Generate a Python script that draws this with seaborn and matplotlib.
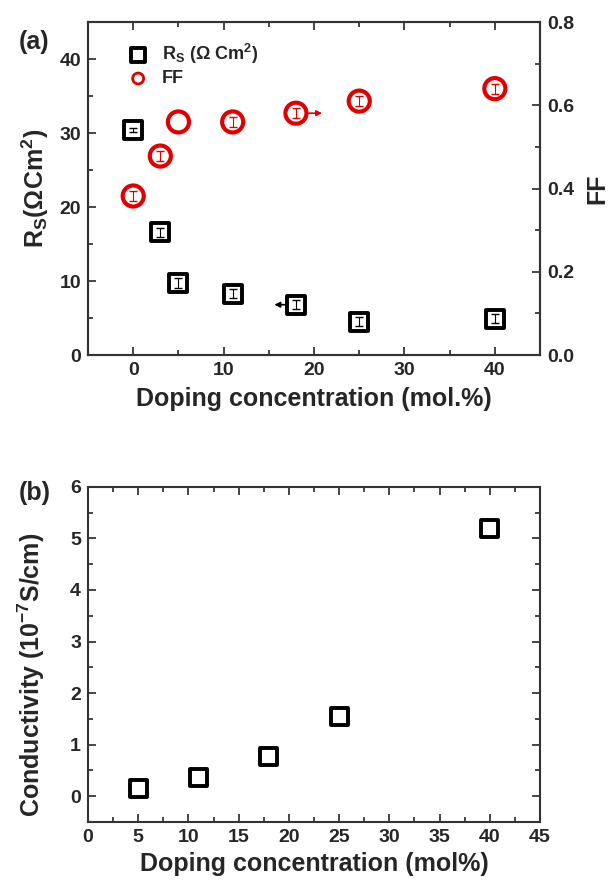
import matplotlib
matplotlib.use("Agg")
import matplotlib.pyplot as plt
from matplotlib.ticker import MultipleLocator
import seaborn as sns
import pandas as pd

sns.set_theme(style="ticks")
plt.rcParams['font.family'] = ['Liberation Sans', 'DejaVu Sans']
plt.rcParams['font.weight'] = 'bold'
plt.rcParams['mathtext.fontset'] = 'custom'
plt.rcParams['mathtext.rm'] = 'Liberation Sans:bold'
plt.rcParams['mathtext.default'] = 'rm'
plt.rcParams['axes.linewidth'] = 1.5
plt.rcParams['axes.edgecolor'] = '#333333'

# panel (a)
dop_a = [0, 3, 5, 11, 18, 25, 40]
rs = [30.4, 16.6, 9.7, 8.3, 6.8, 4.5, 4.9]
rs_err = [0.3, 0.6, 0.7, 0.6, 0.6, 0.6, 0.6]
ff = [0.382, 0.478, 0.560, 0.560, 0.581, 0.610, 0.640]
ff_err = [0.012, 0.012, 0.0, 0.012, 0.012, 0.012, 0.012]

# panel (b)
dop_b = [5, 11, 18, 25, 40]
cond = [0.15, 0.37, 0.78, 1.54, 5.19]

df_a = pd.DataFrame({'dop': dop_a, 'rs': rs, 'ff': ff, 'rs_err': rs_err, 'ff_err': ff_err})
df_b = pd.DataFrame({'dop': dop_b, 'cond': cond})
ffe = df_a[df_a.ff_err > 0]

TICK = 14
LAB = 18

fig = plt.figure(figsize=(6.13, 8.82), dpi=100)
ax1 = fig.add_axes([0.1436, 0.5975, 0.7374, 0.3775])
ax2 = ax1.twinx()
ax3 = fig.add_axes([0.1436, 0.068, 0.7374, 0.380])

sns.scatterplot(data=df_a, x='dop', y='rs', ax=ax1, marker='s', s=170,
                facecolor='none', edgecolor='black', linewidth=2.8, label=r'R$_\mathrm{S}$ ($\Omega$ Cm$^2$)', zorder=3)
ax1.errorbar(df_a.dop, df_a.rs, yerr=df_a.rs_err, fmt='none', ecolor='black', elinewidth=0.8, capsize=3, zorder=4)
sns.scatterplot(data=df_a, x='dop', y='ff', ax=ax2, marker='o', s=230,
                facecolor='none', edgecolor='#e00000', linewidth=3, zorder=3, legend=False)
ax2.errorbar(ffe.dop, ffe.ff, yerr=ffe.ff_err, fmt='none', ecolor='#e00000', elinewidth=0.8, capsize=3, zorder=4)

# legend handle for FF on ax1
ax1.scatter([], [], marker='o', s=110, facecolor='none', edgecolor='#e00000', linewidths=2, label='FF')
h, l = ax1.get_legend_handles_labels()
ax1.legend(h, l, loc='upper left', bbox_to_anchor=(0.035, 0.99), frameon=False, fontsize=13,
           handletextpad=0.3, labelspacing=0.25, markerscale=0.75)

# arrows
ax1.annotate('', xy=(15.3, 6.8), xytext=(17.3, 6.8),
             arrowprops=dict(arrowstyle='-|>', color='black', lw=1.2, mutation_scale=8))
ax2.annotate('', xy=(21.2, 0.581), xytext=(19.1, 0.581),
             arrowprops=dict(arrowstyle='-|>', color='#e00000', lw=1.2, mutation_scale=8))

ax1.set_xlim(-5, 45)
ax1.set_ylim(0, 45)
ax2.set_ylim(0, 0.8)
ax1.xaxis.set_major_locator(MultipleLocator(10))
ax1.xaxis.set_minor_locator(MultipleLocator(5))
ax1.yaxis.set_major_locator(MultipleLocator(10))
ax1.yaxis.set_minor_locator(MultipleLocator(5))
ax2.yaxis.set_major_locator(MultipleLocator(0.2))
ax2.yaxis.set_minor_locator(MultipleLocator(0.1))
ax2.yaxis.set_major_formatter(plt.FormatStrFormatter('%.1f'))
for a in (ax1, ax2):
    a.tick_params(which='both', direction='in', labelsize=TICK, pad=5)
    a.tick_params(which='major', length=6, width=1.2)
    a.tick_params(which='minor', length=3.5, width=1.2)
ax1.tick_params(which='both', top=True)
ax1.set_xlabel('Doping concentration (mol.%)', fontsize=LAB, fontweight='bold', labelpad=6)
ax1.set_ylabel(r'R$_\mathrm{S}$($\Omega$Cm$^2$)', fontsize=LAB, fontweight='bold', labelpad=6)
ax2.set_ylabel('FF', fontsize=LAB, fontweight='bold', labelpad=8)
for t in ax1.get_xticklabels() + ax1.get_yticklabels() + ax2.get_yticklabels():
    t.set_fontweight('bold')
fig.text(0.03, 0.945, '(a)', fontsize=LAB, fontweight='bold')

sns.scatterplot(data=df_b, x='dop', y='cond', ax=ax3, marker='s', s=150,
                facecolor='none', edgecolor='black', linewidth=2.8, zorder=3, legend=False)
ax3.set_xlim(0, 45)
ax3.set_ylim(-0.5, 6)
ax3.xaxis.set_major_locator(MultipleLocator(5))
ax3.xaxis.set_minor_locator(MultipleLocator(2.5))
ax3.yaxis.set_major_locator(MultipleLocator(1))
ax3.yaxis.set_minor_locator(MultipleLocator(0.5))
ax3.tick_params(which='both', direction='in', top=True, right=True, labelsize=TICK, pad=5)
ax3.tick_params(which='major', length=6, width=1.2)
ax3.tick_params(which='minor', length=3.5, width=1.2)
ax3.set_xlabel('Doping concentration (mol%)', fontsize=LAB, fontweight='bold', labelpad=4)
ax3.set_ylabel(r'Conductivity (10$^{-7}$S/cm)', fontsize=LAB, fontweight='bold')
ax3.yaxis.set_label_coords(-0.09, 0.44)
for t in ax3.get_xticklabels() + ax3.get_yticklabels():
    t.set_fontweight('bold')
fig.text(0.03, 0.433, '(b)', fontsize=LAB, fontweight='bold')

fig.savefig('out.png', dpi=100)
